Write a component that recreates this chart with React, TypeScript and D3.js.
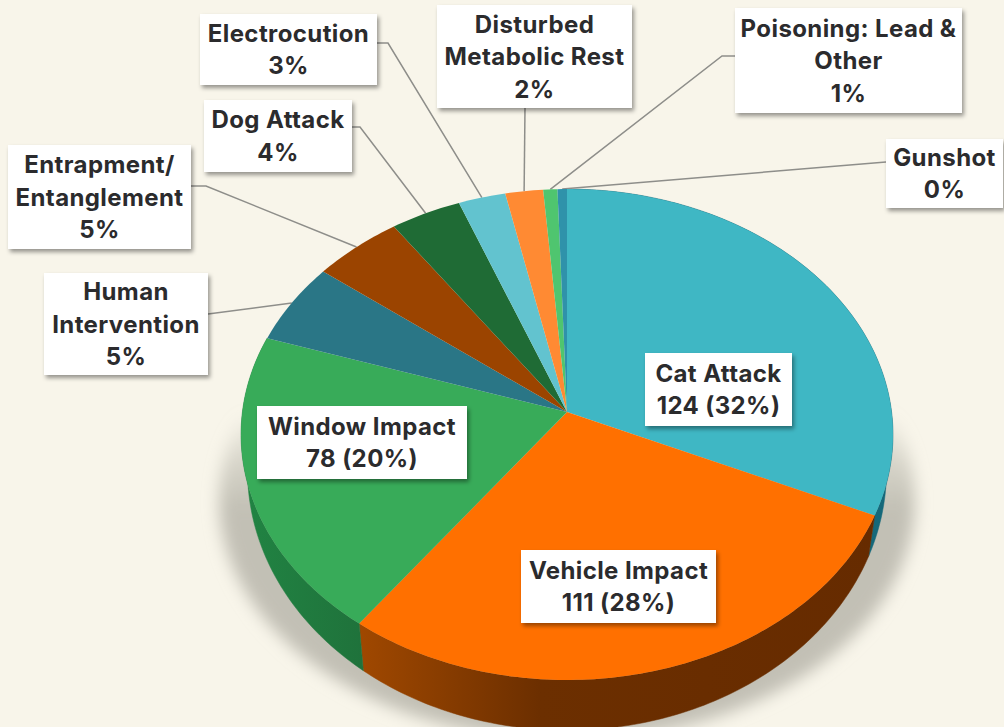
import * as d3 from 'd3';

const categories = ['Cat Attack', 'Vehicle Impact', 'Window Impact', 'Human Intervention', 'Entrapment/Entanglement', 'Dog Attack', 'Electrocution', 'Disturbed Metabolic Rest', 'Poisoning: Lead & Other', 'Gunshot'];
const counts = [124, 111, 78, 21, 19, 15, 10, 8, 3, 2];
const labelLines = [
  ['Cat Attack', '124 (32%)'],
  ['Vehicle Impact', '111 (28%)'],
  ['Window Impact', '78 (20%)'],
  ['Human', 'Intervention', '5%'],
  ['Entrapment/', 'Entanglement', '5%'],
  ['Dog Attack', '4%'],
  ['Electrocution', '3%'],
  ['Disturbed', 'Metabolic Rest', '2%'],
  ['Poisoning: Lead &', 'Other', '1%'],
  ['Gunshot', '0%'],
];
const faceColors = ['#3fb7c4', '#ff7000', '#38ab59', '#2a7686', '#9b4400', '#1f6b35', '#62c3cf', '#ff8a33', '#4fc56f', '#2f92aa'];

// label box layout: x0, y0, x1, y1
const boxes = [
  [645, 353, 792, 426],
  [521, 550, 716, 623],
  [257, 406, 467, 479],
  [44, 273, 208, 375],
  [8, 145, 191, 249],
  [204, 100, 352, 172],
  [200, 14, 377, 85],
  [437, 5, 632, 108],
  [735, 8, 962, 113],
  [886, 139, 1003, 208],
];
// where each leader leaves its box, plus the elbow if there is one
const leaderStarts: (number[][] | null)[] = [
  null,
  null,
  null,
  [[208, 314]],
  [[191, 186], [206, 186]],
  [[352, 127], [360, 127]],
  [[377, 43], [388, 43]],
  [[525, 108]],
  [[735, 56], [722, 56]],
  [[886, 162]],
];

const WIDTH = 1004;
const HEIGHT = 727;
const apexX = 567;
const apexY = 412;
const radiusX = 324.6;
const radiusY = 243.4;
const tilt = 0.0917;

// circle to screen, the pie is seen in perspective so the apex sits above the ellipse centre
function topPoint(angle: number): [number, number] {
  const u = Math.sin(angle);
  const v = -Math.cos(angle);
  const w = 1 - tilt * v;
  return [apexX + (radiusX * u) / w, apexY + (radiusY * v) / w];
}

function bottomPoint(angle: number): [number, number] {
  const [x, y] = topPoint(angle);
  return [apexX + (x - apexX) * 0.98, apexY + (y - apexY) * 1.057 + 35];
}

const pieGen = d3.pie<number>().sort(null).startAngle(0).endAngle(2 * Math.PI);
const slices = pieGen(counts);
const lineGen = d3.line();

function sampleAngles(a0: number, a1: number) {
  const n = Math.max(2, Math.ceil((a1 - a0) * 60));
  return d3.range(n + 1).map((i) => a0 + ((a1 - a0) * i) / n);
}

function facePath(a0: number, a1: number) {
  const pts: [number, number][] = [[apexX, apexY], ...sampleAngles(a0, a1).map(topPoint)];
  return lineGen(pts) + 'Z';
}

function wallPath(a0: number, a1: number) {
  const angles = sampleAngles(a0, a1);
  const pts = [...angles.map(topPoint), ...angles.slice().reverse().map(bottomPoint)];
  return lineGen(pts) + 'Z';
}

const wallFills = ['#15687a', 'url(#wallOrange)', 'url(#wallGreen)'];

export default function App() {
  const font = 'Inter, sans-serif';
  return (
    <svg
      width={WIDTH}
      height={HEIGHT}
      viewBox={`0 0 ${WIDTH} ${HEIGHT}`}
      style={{ position: 'absolute', left: 0, top: 0, display: 'block' }}
    >
      <defs>
        <linearGradient id="wallOrange" x1="0" x2="1" y1="0" y2="0">
          <stop offset="0" stopColor="#a04800" />
          <stop offset="0.35" stopColor="#6c2f00" />
          <stop offset="1" stopColor="#662b00" />
        </linearGradient>
        <linearGradient id="wallGreen" x1="0" x2="1" y1="0" y2="0">
          <stop offset="0" stopColor="#218443" />
          <stop offset="1" stopColor="#1f723b" />
        </linearGradient>
        <linearGradient id="shadowFade" x1="0" x2="0" y1="0" y2="1">
          <stop offset="0.32" stopColor="#c2c0b5" stopOpacity="0" />
          <stop offset="0.42" stopColor="#c2c0b5" stopOpacity="0.6" />
          <stop offset="0.52" stopColor="#c2c0b5" stopOpacity="1" />
          <stop offset="1" stopColor="#c2c0b5" stopOpacity="1" />
        </linearGradient>
        <filter id="shadowBlur" x="-10%" y="-10%" width="120%" height="120%">
          <feGaussianBlur stdDeviation="8" />
        </filter>
        <filter id="boxShadow" x="-10%" y="-15%" width="125%" height="135%">
          <feDropShadow dx="2" dy="3" stdDeviation="2" floodColor="#000" floodOpacity="0.4" />
        </filter>
      </defs>

      <rect width={WIDTH} height={HEIGHT} fill="#f8f5ea" />

      {/* soft shadow below the pie */}
      <ellipse cx={apexX} cy={500} rx={348} ry={240} fill="url(#shadowFade)" filter="url(#shadowBlur)" />

      {/* rim */}
      {slices.slice(0, 3).map((s, i) => (
        <path key={i} d={wallPath(s.startAngle, s.endAngle)} fill={wallFills[i]} stroke={wallFills[i]} strokeWidth={0.5} />
      ))}

      {/* leaders */}
      {slices.map((s, i) => {
        const start = leaderStarts[i];
        if (!start) return null;
        const end = topPoint((s.startAngle + s.endAngle) / 2);
        return (
          <path
            key={categories[i]}
            d={lineGen([...start, end] as [number, number][]) as string}
            fill="none"
            stroke="#8e8e8a"
            strokeWidth={1.5}
          />
        );
      })}

      {/* top face */}
      {slices.map((s, i) => (
        <path key={categories[i]} d={facePath(s.startAngle, s.endAngle)} fill={faceColors[i]} />
      ))}

      {/* labels */}
      {boxes.map(([x0, y0, x1, y1], i) => {
        const lines = labelLines[i];
        const cx = (x0 + x1) / 2;
        const step = 32.5;
        const firstY = (y0 + y1) / 2 - ((lines.length - 1) * step) / 2;
        return (
          <g key={categories[i]}>
            <rect x={x0} y={y0} width={x1 - x0} height={y1 - y0} fill="#ffffff" filter="url(#boxShadow)" />
            {lines.map((t, j) => (
              <text
                key={j}
                x={cx}
                y={firstY + j * step}
                dy="0.36em"
                textAnchor="middle"
                fontFamily={font}
                fontWeight={700}
                fontSize={24}
                letterSpacing={0.4}
                fill="#2b2b2d"
              >
                {t}
              </text>
            ))}
          </g>
        );
      })}
    </svg>
  );
}
